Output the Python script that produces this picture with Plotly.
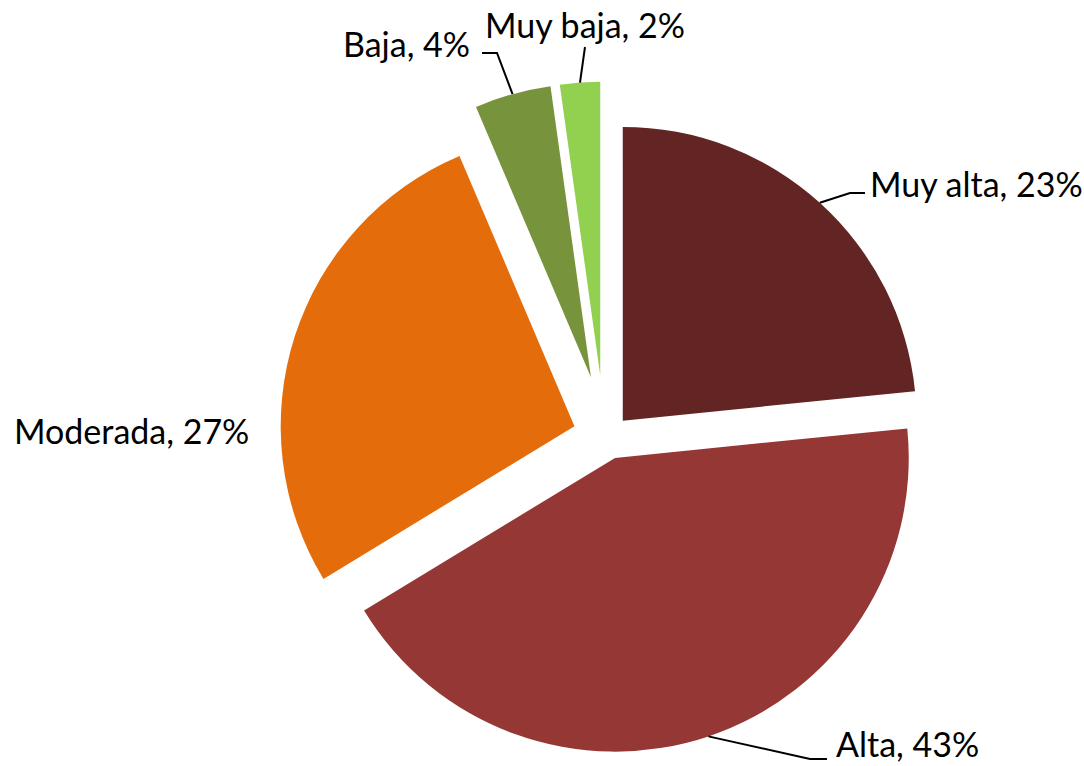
import math
import plotly.graph_objects as go

# ---- data ----
categories = ["Muy alta", "Alta", "Moderada", "Baja", "Muy baja"]
values = [23.4, 42.9, 27.3, 4.2, 2.2]

# ---- style ----
colors = ["#632523", "#953735", "#E46C0A", "#77933C", "#92D050"]
W, H = 1084, 766
R = 293.75
main_pull = [0.075, 0.075, 0.12, 0, 0]
small_pull = [0, 0, 0, 0.16, 0.16]
main_center = (608, 437)
small_center = (603.5, 422.5)
FONT = "Lato"
FSIZE = 34

label_layout = [
    dict(x=976, y=184, xanchor="center", path=[(850, 193), (865, 193)]),
    dict(x=834, y=743, xanchor="left", path=[(810, 759), (827, 759)]),
    dict(x=12, y=430, xanchor="left", path=None),
    dict(x=472, y=43, xanchor="right", path=[(497, 53), (482, 53)]),
    dict(x=585, y=24, xanchor="center", path=[(585, 47)]),
]


def domain_for(center, pulls):
    half = R * (1 + max(pulls))
    cx, cy = center
    dx = [max(0.0, (cx - half) / W), min(1.0, (cx + half) / W)]
    dy = [max(0.0, (H - cy - half) / H), min(1.0, (H - cy + half) / H)]
    return dict(x=dx, y=dy)


main_colors = [c if p > 0 else "rgba(0,0,0,0)" for c, p in zip(colors, [1, 1, 1, 0, 0])]
small_colors = [c if p > 0 else "rgba(0,0,0,0)" for c, p in zip(colors, [0, 0, 0, 1, 1])]

fig = go.Figure()
fig.add_trace(go.Pie(
    labels=categories, values=values, sort=False, direction="clockwise",
    rotation=0, pull=main_pull, textinfo="none", hoverinfo="label+percent",
    marker=dict(colors=main_colors, line=dict(width=0)),
    domain=domain_for(main_center, main_pull), showlegend=False,
))
fig.add_trace(go.Pie(
    labels=categories, values=values, sort=False, direction="clockwise",
    rotation=0, pull=small_pull, textinfo="none", hoverinfo="label+percent",
    marker=dict(colors=small_colors, line=dict(width=0)),
    domain=domain_for(small_center, small_pull), showlegend=False,
))

total = sum(values)
cum = 0.0
shapes = []
annotations = []


def px2paper(x, y):
    return x / W, 1 - y / H


for i, (cat, v) in enumerate(zip(categories, values)):
    a0 = cum / total * 360
    cum += v
    a1 = cum / total * 360
    mid = math.radians((a0 + a1) / 2)
    ux, uy = math.sin(mid), -math.cos(mid)
    if i < 3:
        cx, cy = main_center
        p = main_pull[i]
    else:
        cx, cy = small_center
        p = small_pull[i]
    tipx, tipy = cx + p * R * ux, cy + p * R * uy
    arcx, arcy = tipx + R * ux, tipy + R * uy

    pct = round(v / total * 100)
    lay = label_layout[i]
    tx, ty = px2paper(lay["x"], lay["y"])
    annotations.append(dict(
        text=f"{cat}, {pct}%", x=tx, y=ty, xref="paper", yref="paper",
        xanchor=lay["xanchor"], yanchor="middle", showarrow=False,
        font=dict(family=FONT, size=FSIZE, color="black"),
    ))
    if lay["path"]:
        pts = [(arcx, arcy)] + lay["path"]
        d = ""
        for k, (x, y) in enumerate(pts):
            X, Y = px2paper(x, y)
            d += ("M" if k == 0 else " L") + f" {X:.5f},{Y:.5f}"
        shapes.append(dict(type="path", path=d, xref="paper", yref="paper",
                           line=dict(color="black", width=2)))

fig.update_layout(
    width=W, height=H, margin=dict(l=0, r=0, t=0, b=0),
    paper_bgcolor="white", plot_bgcolor="white",
    shapes=shapes, annotations=annotations, showlegend=False,
)

fig.write_html("out.html", config={"displayModeBar": False},
               post_script="document.body.style.margin='0';")
